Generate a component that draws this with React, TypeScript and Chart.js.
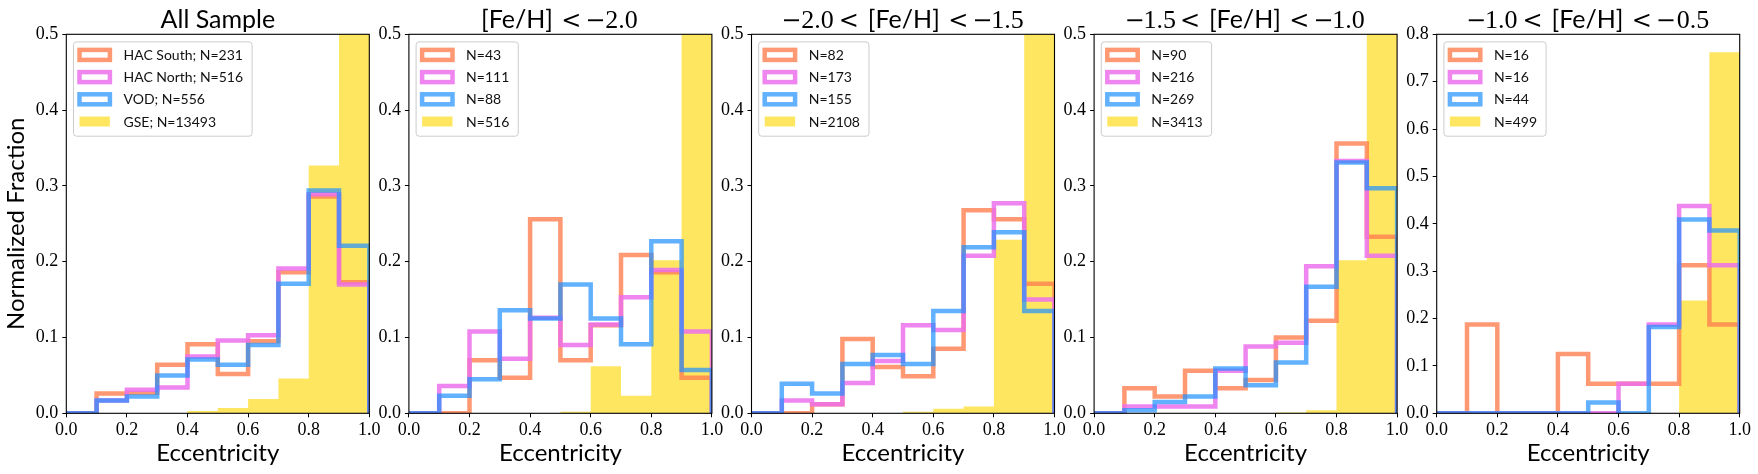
import React, { useEffect, useRef } from "react";
import { Chart, registerables } from "chart.js";

Chart.register(...registerables);

// ---------- data ----------
const binEdges = [0, 0.1, 0.2, 0.3, 0.4, 0.5, 0.6, 0.7, 0.8, 0.9, 1.0];
const seriesNames = ["HAC South", "HAC North", "VOD", "GSE"];

// All sample
const allSouth = [0, 0.026, 0.027, 0.064, 0.091, 0.052, 0.095, 0.186, 0.286, 0.173];
const allNorth = [0, 0.017, 0.031, 0.034, 0.075, 0.096, 0.103, 0.191, 0.289, 0.170];
const allVod = [0, 0.017, 0.022, 0.050, 0.071, 0.064, 0.090, 0.171, 0.294, 0.221];
const allGse = [0, 0, 0, 0, 0.003, 0.007, 0.019, 0.046, 0.327, 0.598];
const allCounts = [231, 516, 556, 13493];

// [Fe/H] < -2.0
const m1South = [0, 0, 0.070, 0.047, 0.256, 0.070, 0.116, 0.209, 0.186, 0.047];
const m1North = [0, 0.036, 0.108, 0.072, 0.126, 0.090, 0.117, 0.153, 0.189, 0.108];
const m1Vod = [0, 0.023, 0.045, 0.136, 0.125, 0.170, 0.125, 0.091, 0.227, 0.057];
const m1Gse = [0, 0, 0, 0, 0, 0.002, 0.062, 0.023, 0.202, 0.711];
const m1Counts = [43, 111, 88, 516];

// -2.0 < [Fe/H] < -1.5
const m2South = [0, 0, 0.012, 0.098, 0.061, 0.049, 0.085, 0.268, 0.256, 0.171];
const m2North = [0, 0.017, 0.012, 0.040, 0.069, 0.116, 0.110, 0.208, 0.277, 0.150];
const m2Vod = [0, 0.039, 0.026, 0.065, 0.077, 0.065, 0.135, 0.219, 0.239, 0.135];
const m2Gse = [0, 0, 0, 0, 0, 0.002, 0.006, 0.009, 0.229, 0.754];
const m2Counts = [82, 173, 155, 2108];

// -1.5 < [Fe/H] < -1.0
const m3South = [0, 0.033, 0.022, 0.056, 0.033, 0.044, 0.100, 0.122, 0.356, 0.233];
const m3North = [0, 0.009, 0.009, 0.009, 0.056, 0.088, 0.093, 0.194, 0.333, 0.208];
const m3Vod = [0, 0.004, 0.015, 0.022, 0.059, 0.037, 0.067, 0.167, 0.331, 0.297];
const m3Gse = [0, 0, 0, 0, 0, 0, 0.001, 0.004, 0.202, 0.793];
const m3Counts = [90, 216, 269, 3413];

// -1.0 < [Fe/H] < -0.5
const m4South = [0, 0.1875, 0, 0, 0.125, 0.0625, 0.0625, 0.0625, 0.3125, 0.1875];
const m4North = [0, 0, 0, 0, 0, 0, 0.0625, 0.1875, 0.4375, 0.3125];
const m4Vod = [0, 0, 0, 0, 0, 0.023, 0, 0.182, 0.409, 0.386];
const m4Gse = [0, 0, 0, 0, 0, 0, 0, 0, 0.238, 0.762];
const m4Counts = [16, 16, 44, 499];

const titleAll = ["All Sample"];
const titleM1 = ["[Fe/H]", "<", "−2.0"];
const titleM2 = ["−2.0", "<", "[Fe/H]", "<", "−1.5"];
const titleM3 = ["−1.5", "<", "[Fe/H]", "<", "−1.0"];
const titleM4 = ["−1.0", "<", "[Fe/H]", "<", "−0.5"];

const yMaxes = [0.5, 0.5, 0.5, 0.5, 0.8];
const xLabel = "Eccentricity";
const yLabel = "Normalized Fraction";

// ---------- styles ----------
const SANS = "Lato";
const SERIF = `"Liberation Serif", "DejaVu Serif", serif`;
const LINE_COLORS = ["rgba(255,127,80,0.8)", "rgba(236,112,236,0.85)", "rgba(30,144,255,0.7)"];
const FILL_COLOR = "rgba(255,215,0,0.62)";
const LINE_W = 4.5;

const PANEL_LEFTS = [66.3, 408.9, 751.5, 1094.1, 1436.7];
const PANEL_W = 303;
const AREA_TOP = 34.3;
const AREA_BOTTOM = 413.3;
const W = 1758;
const H = 474;
const X_AXIS_H = 60;

type Panel = {
  title: string[];
  series: number[][];
  counts: number[];
  yMax: number;
  withNames: boolean;
  first: boolean;
};

const panels: Panel[] = [
  { title: titleAll, series: [allSouth, allNorth, allVod, allGse], counts: allCounts, yMax: yMaxes[0], withNames: true, first: true },
  { title: titleM1, series: [m1South, m1North, m1Vod, m1Gse], counts: m1Counts, yMax: yMaxes[1], withNames: false, first: false },
  { title: titleM2, series: [m2South, m2North, m2Vod, m2Gse], counts: m2Counts, yMax: yMaxes[2], withNames: false, first: false },
  { title: titleM3, series: [m3South, m3North, m3Vod, m3Gse], counts: m3Counts, yMax: yMaxes[3], withNames: false, first: false },
  { title: titleM4, series: [m4South, m4North, m4Vod, m4Gse], counts: m4Counts, yMax: yMaxes[4], withNames: false, first: false },
];

function stepPoints(values: number[]) {
  const pts = [{ x: binEdges[0], y: 0 }];
  values.forEach((v, i) => pts.push({ x: binEdges[i], y: v }));
  pts.push({ x: binEdges[binEdges.length - 1], y: 0 });
  return pts;
}

function drawTitle(ctx: CanvasRenderingContext2D, tokens: string[], cx: number, baseline: number) {
  const SANS_F = `25px ${SANS}`;
  const NUM_F = `26px ${SERIF}`;
  const REL_F = `24px "DejaVu Serif", serif`;
  type Piece = { text: string; font: string; kind: string };
  const pieces: Piece[] = [];
  tokens.forEach((tok) => {
    if (tok === "<") pieces.push({ text: "<", font: REL_F, kind: "rel" });
    else if (tok.startsWith("−")) {
      pieces.push({ text: "−", font: REL_F, kind: "minus" });
      pieces.push({ text: tok.slice(1), font: NUM_F, kind: "num" });
    } else pieces.push({ text: tok, font: SANS_F, kind: "sans" });
  });
  const gapFor = (prev: string | null, cur: string) => {
    if (!prev) return 0;
    if (cur === "rel") return prev === "sans" ? 12 : 7;
    if (prev === "rel") return cur === "sans" ? 13 : 8;
    if (prev === "minus") return 3;
    return 4;
  };
  const measured = pieces.map((p, i) => {
    ctx.font = p.font;
    const m = ctx.measureText(p.text);
    return { ...p, abl: m.actualBoundingBoxLeft, w: m.actualBoundingBoxLeft + m.actualBoundingBoxRight, gap: gapFor(i > 0 ? pieces[i - 1].kind : null, p.kind) };
  });
  const total = measured.reduce((s, p) => s + p.gap + p.w, 0);
  let x = cx - total / 2;
  ctx.save();
  ctx.fillStyle = "#000";
  ctx.textAlign = "left";
  ctx.textBaseline = "alphabetic";
  measured.forEach((p) => {
    x += p.gap;
    ctx.font = p.font;
    ctx.fillText(p.text, x + p.abl, baseline);
    x += p.w;
  });
  ctx.restore();
}

function PanelChart({ panel, index }: { panel: Panel; index: number }) {
  const ref = useRef<HTMLCanvasElement | null>(null);
  useEffect(() => {
    const canvas = ref.current;
    if (!canvas) return;
    const left = PANEL_LEFTS[index];
    const right = left + PANEL_W;
    const yW = panel.first ? left : 40;
    const padLeft = left - yW;
    const padRight = W - right;
    const padBottom = H - AREA_BOTTOM - X_AXIS_H;

    const labels = panel.counts.map((n, i) => (panel.withNames ? `${seriesNames[i]}; N=${n}` : `N=${n}`));

    const datasets: any[] = panel.series.map((vals, i) => {
      const isFill = i === 3;
      return {
        label: labels[i],
        data: stepPoints(vals),
        stepped: "before",
        pointRadius: 0,
        pointHoverRadius: 0,
        borderWidth: isFill ? 1 : LINE_W,
        borderColor: isFill ? "rgba(0,0,0,0)" : LINE_COLORS[i],
        backgroundColor: isFill ? FILL_COLOR : "rgba(0,0,0,0)",
        fill: isFill ? "origin" : false,
        clip: 0,
        tension: 0,
        order: isFill ? 10 : 3 - i,
        borderJoinStyle: "miter",
        borderCapStyle: "butt",
      };
    });

    const decor = {
      id: "decor" + index,
      afterDatasetsDraw(chart: any) {
        const { ctx, chartArea } = chart;
        ctx.save();
        ctx.strokeStyle = "#000";
        ctx.lineWidth = 1.1;
        ctx.strokeRect(chartArea.left, chartArea.top, chartArea.right - chartArea.left, chartArea.bottom - chartArea.top);
        ctx.restore();
      },
      afterDraw(chart: any) {
        const { ctx, chartArea } = chart;
        drawTitle(ctx, panel.title, (chartArea.left + chartArea.right) / 2, 27.8);
        ctx.save();
        ctx.font = `14px ${SANS}`;
        const ds = chart.data.datasets;
        const tw = Math.max(...ds.map((d: any) => ctx.measureText(d.label).width));
        const bx = chartArea.left + 7.2;
        const by = chartArea.top + 7.6;
        const bw = 50 + tw + 9;
        const bh = 94.3;
        const r = 3;
        ctx.beginPath();
        ctx.moveTo(bx + r, by);
        ctx.lineTo(bx + bw - r, by);
        ctx.arcTo(bx + bw, by, bx + bw, by + r, r);
        ctx.lineTo(bx + bw, by + bh - r);
        ctx.arcTo(bx + bw, by + bh, bx + bw - r, by + bh, r);
        ctx.lineTo(bx + r, by + bh);
        ctx.arcTo(bx, by + bh, bx, by + bh - r, r);
        ctx.lineTo(bx, by + r);
        ctx.arcTo(bx, by, bx + r, by, r);
        ctx.closePath();
        ctx.fillStyle = "rgba(255,255,255,0.8)";
        ctx.fill();
        ctx.strokeStyle = "#cccccc";
        ctx.lineWidth = 1;
        ctx.stroke();
        ds.forEach((d: any, i: number) => {
          const cy = by + 13 + i * 22.2;
          const sx = bx + 6;
          const sw = 30.4;
          const sh = 10;
          if (d.fill) {
            ctx.fillStyle = d.backgroundColor;
            ctx.fillRect(sx, cy - sh / 2, sw, sh);
          } else {
            ctx.strokeStyle = d.borderColor;
            ctx.lineWidth = d.borderWidth;
            ctx.lineJoin = "miter";
            ctx.strokeRect(sx, cy - sh / 2, sw, sh);
          }
          ctx.fillStyle = "#111";
          ctx.textAlign = "left";
          ctx.textBaseline = "middle";
          ctx.fillText(d.label, bx + 50, cy + 0.5);
        });
        ctx.restore();
      },
    };

    const tickFont = { family: SERIF, size: 18 };
    const chart = new Chart(canvas, {
      type: "line",
      data: { datasets },
      options: {
        responsive: false,
        animation: false,
        events: [],
        layout: { padding: { left: padLeft, right: padRight, top: AREA_TOP, bottom: padBottom }, autoPadding: false },
        plugins: { legend: { display: false }, tooltip: { enabled: false }, title: { display: false } },
        scales: {
          x: {
            type: "linear",
            min: 0,
            max: 1,
            afterFit: (s: any) => {
              s.height = X_AXIS_H;
            },
            ticks: {
              stepSize: 0.2,
              callback: (v: any) => Number(v).toFixed(1),
              font: tickFont,
              color: "#000",
              padding: 2,
              maxRotation: 0,
              autoSkip: false,
            },
            grid: { drawOnChartArea: false, drawTicks: true, tickLength: 4, tickColor: "#000", tickWidth: 1 },
            border: { display: false },
            title: { display: true, text: xLabel, font: { family: SANS, size: 24 }, color: "#000", padding: { top: 0, bottom: 6 } },
          },
          y: {
            type: "linear",
            min: 0,
            max: panel.yMax,
            afterFit: (s: any) => {
              s.width = yW;
            },
            ticks: {
              stepSize: 0.1,
              callback: (v: any) => Number(v).toFixed(1),
              font: tickFont,
              color: "#000",
              padding: 4,
              autoSkip: false,
            },
            grid: { drawOnChartArea: false, drawTicks: true, tickLength: 4, tickColor: "#000", tickWidth: 1 },
            border: { display: false },
            title: { display: panel.first, text: yLabel, font: { family: SANS, size: 24 }, color: "#000", padding: { top: 2, bottom: 0 } },
          },
        },
      } as any,
      plugins: [decor],
    });
    return () => chart.destroy();
  }, [panel, index]);

  return (
    <canvas
      ref={ref}
      width={W}
      height={H}
      style={{ position: "absolute", left: 0, top: 0, width: W, height: H }}
    />
  );
}

export default function App() {
  return (
    <div style={{ position: "absolute", left: 0, top: 0, width: W, height: H, background: "#fff", overflow: "hidden" }}>
      {panels.map((p, i) => (
        <PanelChart key={i} panel={p} index={i} />
      ))}
    </div>
  );
}
